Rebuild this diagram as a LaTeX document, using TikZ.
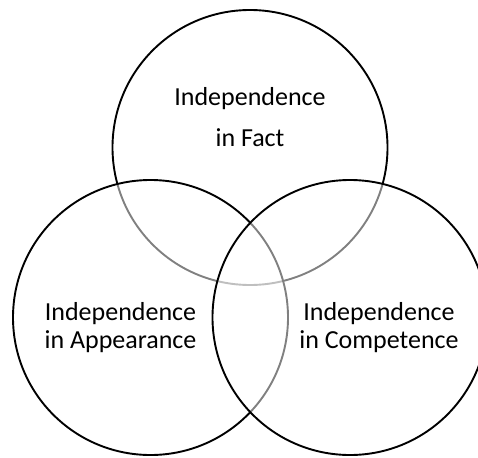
\documentclass[tikz,border=0pt]{standalone}
\usepackage{fontspec}
\setmainfont{Carlito}
\usetikzlibrary{positioning}

\begin{document}
\begin{tikzpicture}[x=1pt,y=-1pt,
  venn/.style={draw=black,line width=1.9pt,circle,fill=white,fill opacity=0.5,minimum size=275pt,inner sep=0pt},
  label/.style={align=center,text=black}]
\useasboundingbox (0,0) rectangle (478,457);
\clip (0,0) rectangle (478,457);
\node[venn] (fact) at (250,147.5) {};
\node[venn] (appear) at (150.5,317.5) {};
\node[venn] (compet) at (350,317.5) {};
\node[label,font=\fontsize{26}{41}\selectfont] (factlbl) at (250,117) {Independence\\in Fact};
\node[label,font=\fontsize{26}{28}\selectfont] (appearlbl) at (120.5,328) {Independence\\in Appearance};
\node[label,font=\fontsize{26}{28}\selectfont] (competlbl) at (379,328) {Independence\\in Competence};
\end{tikzpicture}
\end{document}
